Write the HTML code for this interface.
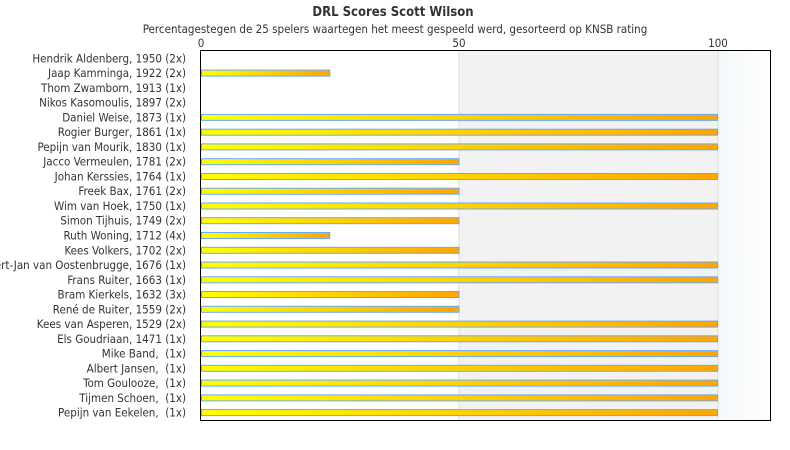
<!DOCTYPE html>
<html><head><meta charset="utf-8"><style>
body{margin:0;background:#fff;}
svg{display:block;font-family:"DejaVu Sans Condensed","DejaVu Sans","Liberation Sans",sans-serif;}
#labels text{white-space:pre;}
</style></head><body>
<svg width="790" height="450" viewBox="0 0 790 450" xmlns="http://www.w3.org/2000/svg">
<defs>
<linearGradient id="bar" x1="0" x2="1" y1="0" y2="0"><stop offset="0" stop-color="#ffff00"/><stop offset="1" stop-color="#ffa500"/></linearGradient>
<linearGradient id="bg3" x1="0" x2="1" y1="0" y2="0"><stop offset="0" stop-color="#f5f8fa"/><stop offset="1" stop-color="#fdfeff"/></linearGradient>
</defs>
<text x="393" y="16" text-anchor="middle" font-size="13" font-weight="bold" fill="#333">DRL Scores Scott Wilson</text>
<text x="395" y="33" text-anchor="middle" font-size="11.5" fill="#333">Percentagestegen de 25 spelers waartegen het meest gespeeld werd, gesorteerd op KNSB rating</text>
<text x="201" y="47" text-anchor="middle" font-size="11.5" fill="#333">0</text>
<text x="459" y="47" text-anchor="middle" font-size="11.5" fill="#333">50</text>
<text x="718" y="47" text-anchor="middle" font-size="11.5" fill="#333">100</text>
<rect x="459" y="51" width="259" height="369" fill="#f2f2f2"/>
<rect x="718" y="51" width="53" height="369" fill="url(#bg3)"/>
<line x1="459" y1="51" x2="459" y2="420" stroke="#ddd"/>
<line x1="718" y1="51" x2="718" y2="420" stroke="#ddd"/>
<g id="bars" stroke="#66aaff" stroke-width="1" fill="url(#bar)"></g>
<g id="labels" font-size="11.5" fill="#333" text-anchor="end" xml:space="preserve"></g>
<rect x="200.5" y="50.5" width="570" height="370" fill="none" stroke="#000"/>
</svg>
<script>
var names=["Hendrik Aldenberg, 1950 (2x)","Jaap Kamminga, 1922 (2x)","Thom Zwamborn, 1913 (1x)","Nikos Kasomoulis, 1897 (2x)","Daniel Weise, 1873 (1x)","Rogier Burger, 1861 (1x)","Pepijn van Mourik, 1830 (1x)","Jacco Vermeulen, 1781 (2x)","Johan Kerssies, 1764 (1x)","Freek Bax, 1761 (2x)","Wim van Hoek, 1750 (1x)","Simon Tijhuis, 1749 (2x)","Ruth Woning, 1712 (4x)","Kees Volkers, 1702 (2x)","Bert-Jan van Oostenbrugge, 1676 (1x)","Frans Ruiter, 1663 (1x)","Bram Kierkels, 1632 (3x)","René de Ruiter, 1559 (2x)","Kees van Asperen, 1529 (2x)","Els Goudriaan, 1471 (1x)","Mike Band,  (1x)","Albert Jansen,  (1x)","Tom Goulooze,  (1x)","Tijmen Schoen,  (1x)","Pepijn van Eekelen,  (1x)"];
var vals=[0,25,0,0,100,100,100,50,100,50,100,50,25,50,100,100,50,50,100,100,100,100,100,100,100];
var ns="http://www.w3.org/2000/svg",b=document.getElementById("bars"),l=document.getElementById("labels");
for(var i=0;i<25;i++){var c=51+14.76*(i+0.5);
var t=document.createElementNS(ns,"text");t.setAttribute("x",186);t.setAttribute("y",(c+4).toFixed(1));t.textContent=names[i];l.appendChild(t);
if(vals[i]>0){var r=document.createElementNS(ns,"rect");r.setAttribute("x",201.5);r.setAttribute("y",(c-3).toFixed(1));r.setAttribute("width",(vals[i]*5.17-1).toFixed(1));r.setAttribute("height",6);b.appendChild(r);}}
</script>
</body></html>
